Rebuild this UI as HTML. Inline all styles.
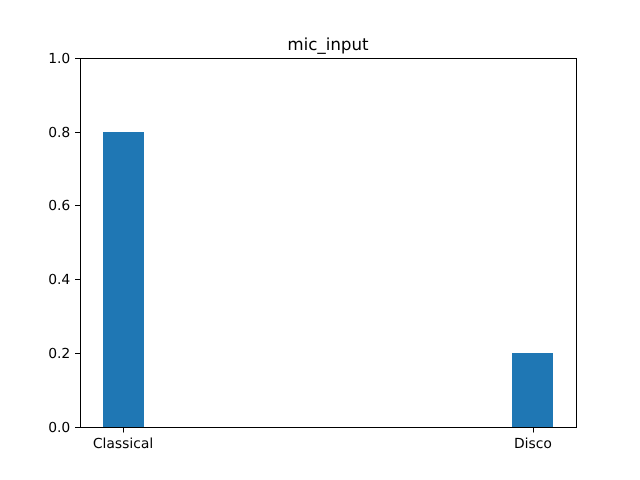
<!DOCTYPE html>
<html>
<head>
<meta charset="utf-8">
<style>
html,body{margin:0;padding:0;background:#fff;width:640px;height:480px;overflow:hidden}
svg{display:block}
text{font-family:"DejaVu Sans","Liberation Sans",sans-serif;fill:#000;text-rendering:geometricPrecision}
</style>
</head>
<body>
<svg id="chart" width="640" height="480" viewBox="0 0 640 480" xmlns="http://www.w3.org/2000/svg"></svg>
<script>
const categories = ["Classical", "Disco"];
const seriesValues = [0.8, 0.2];
const yTickLabels = ["0.0", "0.2", "0.4", "0.6", "0.8", "1.0"];
const chartTitle = "mic_input";

const svgNS = "http://www.w3.org/2000/svg";
const svg = document.getElementById("chart");
const plotLeft = 80, plotRight = 576, plotTop = 58, plotBottom = 427;
const barWidthUnits = 0.1;
const xMin = -0.105, xMax = 1.105;
const tickLen = 4.86;

function xScale(v) { return plotLeft + (v - xMin) / (xMax - xMin) * (plotRight - plotLeft); }
function yScale(v) { return 427.2 - v * (427.2 - 57.6); }
function snap(p) { return Math.round(p) + 0.5; }

function make(tag, attrs, text) {
  const el = document.createElementNS(svgNS, tag);
  for (const k in attrs) el.setAttribute(k, attrs[k]);
  if (text !== undefined) el.textContent = text;
  svg.appendChild(el);
  return el;
}

categories.forEach(function (cat, i) {
  const pos = categories.length > 1 ? i / (categories.length - 1) : 0;
  const x0 = Math.round(xScale(pos - barWidthUnits / 2));
  const x1 = Math.round(xScale(pos + barWidthUnits / 2));
  const y = Math.round(yScale(seriesValues[i]));
  const base = Math.round(yScale(0));
  const bar = make("rect", { x: x0, y: y, width: x1 - x0, height: base - y, fill: "#1f77b4" });
  
  

  const cx = snap(xScale(pos));
  const tick = make("line", { x1: cx, x2: cx, y1: plotBottom, y2: plotBottom + 0.5 + tickLen, stroke: "#000", "stroke-width": 1, "shape-rendering": "crispEdges" });
  
  

  const label = make("text", { x: xScale(pos), y: 448, "text-anchor": "middle", "font-size": "13.89px" }, cat);
  
  
});

yTickLabels.forEach(function (lab) {
  const v = parseFloat(lab);
  const y = snap(yScale(v));
  const tick = make("line", { x1: plotLeft - tickLen, x2: plotLeft, y1: y, y2: y, stroke: "#000", "stroke-width": 1, "shape-rendering": "crispEdges" });
  
  

  const label = make("text", { x: plotLeft - 2 * tickLen, y: y + 4.5, "text-anchor": "end", "font-size": "13.89px" }, lab);
  
  
});

const frame = make("rect", { x: plotLeft + 0.5, y: plotTop + 0.5, width: plotRight - plotLeft, height: plotBottom - plotTop, fill: "none", stroke: "#000", "stroke-width": 1, "shape-rendering": "crispEdges" });



const title = make("text", { x: (plotLeft + plotRight) / 2, y: 50, "text-anchor": "middle", "font-size": "16.67px" }, chartTitle);


</script>
</body>
</html>
